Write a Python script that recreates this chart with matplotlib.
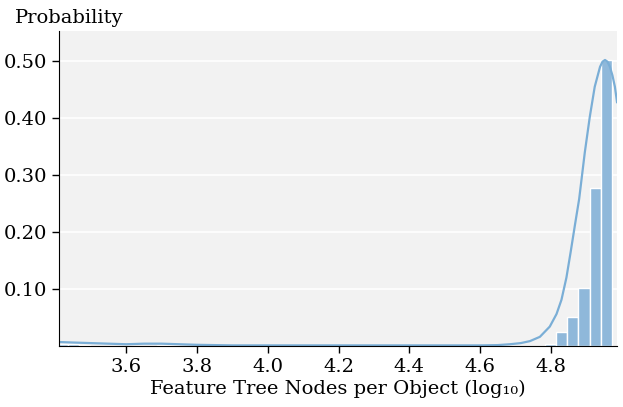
import matplotlib.pyplot as plt
import numpy as np
from matplotlib.ticker import FormatStrFormatter

plt.rcParams['font.family'] = ['DejaVu Serif', 'DejaVu Sans']

# histogram: 50 bins between min and max of the data
x_min, x_max, n_bins = 3.405, 4.972, 50
bin_index = [0, 1, 2, 9, 10, 44, 45, 46, 47, 48, 49]
bin_prob = [0.003, 0.003, 0.002, 0.002, 0.002, 0.004, 0.025, 0.051, 0.102, 0.277, 0.502]

# density curve
kde_x = [3.405, 3.45, 3.5, 3.55, 3.6, 3.65, 3.7, 3.75, 3.8, 3.9, 4.0, 4.2, 4.4, 4.6,
         4.65, 4.684, 4.715, 4.741, 4.769, 4.797, 4.816, 4.830, 4.844, 4.856, 4.868,
         4.880, 4.896, 4.910, 4.924, 4.939, 4.946, 4.953, 4.960, 4.967, 4.974, 4.981,
         4.987]
kde_y = [0.007, 0.006, 0.005, 0.004, 0.003, 0.004, 0.004, 0.003, 0.002, 0.001, 0.001,
         0.001, 0.001, 0.001, 0.0015, 0.003, 0.005, 0.0085, 0.016, 0.034, 0.056, 0.081,
         0.120, 0.165, 0.212, 0.258, 0.340, 0.402, 0.455, 0.490, 0.499, 0.502, 0.499,
         0.490, 0.475, 0.455, 0.428]

edges = np.linspace(x_min, x_max, n_bins + 1)
width = edges[1] - edges[0]
lefts = [edges[i] for i in bin_index]

fig = plt.figure(figsize=(6.23, 4.07), dpi=100)
ax = fig.add_axes([0.0947, 0.150, 0.8957, 0.774])
ax.set_facecolor('#f2f2f2')
ax.grid(axis='y', color='white', linewidth=1.2)
ax.set_axisbelow(True)

ax.bar(lefts, bin_prob, width=width, align='edge', color='#8fb8da',
       edgecolor='white', linewidth=1)
ax.plot(kde_x, kde_y, color='#7aaed6', linewidth=1.6)

ax.set_xlim(3.41, 4.987)
ax.set_ylim(0, 0.553)
ax.set_xticks([3.6, 3.8, 4.0, 4.2, 4.4, 4.6, 4.8])
ax.set_yticks([0.1, 0.2, 0.3, 0.4, 0.5])
ax.xaxis.set_major_formatter(FormatStrFormatter('%.1f'))
ax.yaxis.set_major_formatter(FormatStrFormatter('%.2f'))
ax.tick_params(labelsize=14, length=5, width=1)
for s in ['top', 'right']:
    ax.spines[s].set_visible(False)

ax.set_xlabel('Feature Tree Nodes per Object (log₁₀)', fontsize=14, labelpad=3)
fig.text(0.024, 0.956, 'Probability', fontsize=14, va='center', ha='left')

plt.savefig('out.png', dpi=100)
